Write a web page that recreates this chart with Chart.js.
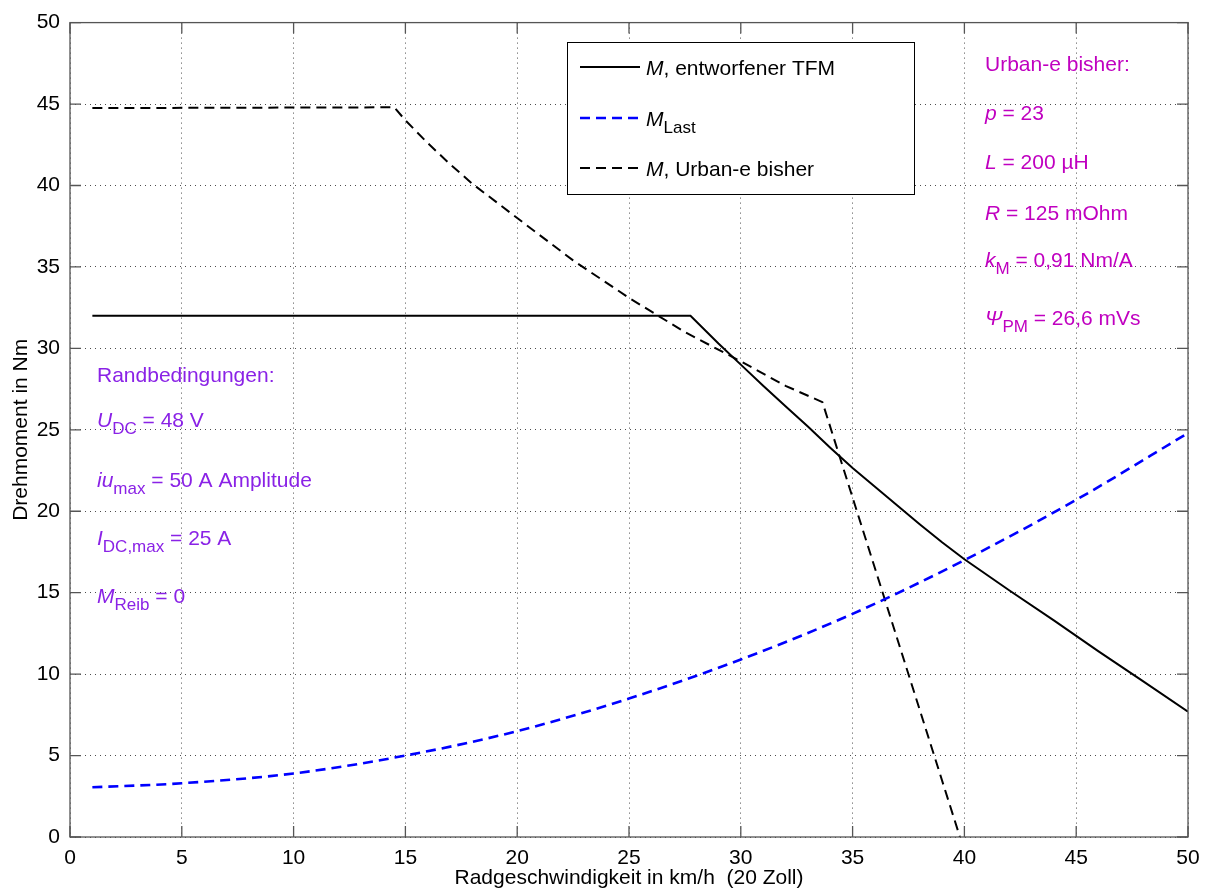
<!DOCTYPE html>
<html>
<head>
<meta charset="utf-8">
<script src="https://cdn.jsdelivr.net/npm/chart.js@4"></script>
<style>
  body { margin: 0; background: #fff; }
  #wrap { width: 1209px; height: 891px; }
</style>
</head>
<body>
<div id="wrap"><canvas id="myChart" width="1209" height="891"></canvas></div>
<script>
// tick labels
let xTicks = [0, 5, 10, 15, 20, 25, 30, 35, 40, 45, 50];
let yTicks = [0, 5, 10, 15, 20, 25, 30, 35, 40, 45, 50];

// M, entworfener TFM (solid black)
let tfmX = [1, 27.75, 29, 30, 31, 32, 33, 34, 35, 36, 37, 38, 39, 40, 42, 44, 46, 48, 50];
let tfmY = [32, 32, 30.3, 29.0, 27.7, 26.45, 25.2, 23.9, 22.65, 21.5, 20.35, 19.2, 18.1, 17.05, 15.15, 13.3, 11.4, 9.55, 7.7];

// M_Last (blue dashed)
let lastX = [1, 5, 10, 15, 20, 25, 30, 35, 40, 45, 50];
let lastY = [3.05, 3.3, 3.9, 5.0, 6.5, 8.5, 10.9, 13.7, 17.0, 20.7, 24.8];

// M, Urban-e bisher (black dashed)
let urbanX = [1, 14.5, 15, 16, 17, 18, 20, 22.5, 25, 27.5, 30, 32, 33.65, 39.8];
let urbanY = [44.75, 44.8, 44.0, 42.6, 41.3, 40.1, 38.0, 35.4, 33.1, 31.0, 29.2, 27.7, 26.7, 0];

function pts(xs, ys) {
  return xs.map((x, i) => ({ x: x, y: ys[i] }));
}

const FONT = '"Liberation Sans", Arial, sans-serif';
const urbanColor = '#c000c0';
const randColor = '#8a22e6';

// draws text made of parts: {t, it (italic), sub (subscript)}
function richText(ctx, x, y, parts, color) {
  ctx.save();
  ctx.fillStyle = color;
  ctx.textBaseline = 'alphabetic';
  ctx.textAlign = 'left';
  parts.forEach(p => {
    let size = p.sub ? 17 : 21;
    ctx.font = (p.it ? 'italic ' : '') + size + 'px ' + FONT;
    ctx.fillText(p.t, x, p.sub ? y + 7 : y);
    x += ctx.measureText(p.t).width;
  });
  ctx.restore();
}

let urbanNotes = [
  [{ t: 'Urban-e bisher:' }],
  [{ t: 'p', it: true }, { t: ' = 23' }],
  [{ t: 'L', it: true }, { t: ' = 200 µH' }],
  [{ t: 'R', it: true }, { t: ' = 125 mOhm' }],
  [{ t: 'k', it: true }, { t: 'M', sub: true }, { t: ' = 0,91 Nm/A' }],
  [{ t: 'Ψ', it: true }, { t: 'PM', sub: true }, { t: ' = 26,6 mVs' }]
];
let urbanBase = [71, 120, 169, 220, 267, 325];

let randNotes = [
  [{ t: 'Randbedingungen:' }],
  [{ t: 'U', it: true }, { t: 'DC', sub: true }, { t: ' = 48 V' }],
  [{ t: 'iu', it: true }, { t: 'max', sub: true }, { t: ' = 50 A Amplitude' }],
  [{ t: 'I', it: true }, { t: 'DC,max', sub: true }, { t: ' = 25 A' }],
  [{ t: 'M', it: true }, { t: 'Reib', sub: true }, { t: ' = 0' }]
];
let randBase = [382, 427, 487, 545, 603];

let extras = {
  id: 'extras',
  afterDatasetsDraw(chart) {
    const ctx = chart.ctx;
    const a = chart.chartArea;
    const xs = chart.scales.x, ys = chart.scales.y;

    // box + inward ticks
    ctx.save();
    ctx.strokeStyle = '#555';
    ctx.lineWidth = 1.3;
    ctx.strokeRect(a.left, a.top, a.right - a.left, a.bottom - a.top);
    ctx.beginPath();
    xTicks.forEach(v => {
      const px = xs.getPixelForValue(v);
      ctx.moveTo(px, a.bottom); ctx.lineTo(px, a.bottom - 11);
      ctx.moveTo(px, a.top); ctx.lineTo(px, a.top + 11);
    });
    yTicks.forEach(v => {
      const py = ys.getPixelForValue(v);
      ctx.moveTo(a.left, py); ctx.lineTo(a.left + 11, py);
      ctx.moveTo(a.right, py); ctx.lineTo(a.right - 11, py);
    });
    ctx.stroke();
    ctx.restore();

    // legend
    ctx.save();
    ctx.fillStyle = '#fff';
    ctx.fillRect(567, 42, 347, 152);
    ctx.strokeStyle = '#000';
    ctx.lineWidth = 1;
    ctx.strokeRect(567.5, 42.5, 347, 152);
    const rows = [
      { y: 67, color: '#000', dash: [], w: 2, parts: [{ t: 'M', it: true }, { t: ', entworfener TFM' }] },
      { y: 118, color: '#0000ff', dash: [10, 6], w: 2.6, parts: [{ t: 'M', it: true }, { t: 'Last', sub: true }] },
      { y: 168, color: '#000', dash: [10, 6], w: 2, parts: [{ t: 'M', it: true }, { t: ', Urban-e bisher' }] }
    ];
    rows.forEach(r => {
      ctx.beginPath();
      ctx.setLineDash(r.dash);
      ctx.strokeStyle = r.color;
      ctx.lineWidth = r.w;
      ctx.moveTo(580, r.y); ctx.lineTo(640, r.y);
      ctx.stroke();
      ctx.setLineDash([]);
      richText(ctx, 646, r.y + 8, r.parts, '#000');
    });
    ctx.restore();

    urbanNotes.forEach((p, i) => richText(ctx, 985, urbanBase[i], p, urbanColor));
    randNotes.forEach((p, i) => richText(ctx, 97, randBase[i], p, randColor));
  }
};

let gridStyle = {
  color: 'rgba(0,0,0,0.7)',
  lineWidth: 1,
  drawTicks: false
};

let myChart = document.getElementById('myChart').getContext('2d');

let torqueChart = new Chart(myChart, {
  type: 'line',
  data: {
    datasets: [{
      label: 'M, entworfener TFM',
      data: pts(tfmX, tfmY),
      borderColor: '#000',
      borderWidth: 2,
      pointRadius: 0,
      tension: 0
    }, {
      label: 'M_Last',
      data: pts(lastX, lastY),
      borderColor: '#0000ff',
      borderWidth: 2.6,
      borderDash: [10, 6],
      pointRadius: 0,
      cubicInterpolationMode: 'monotone'
    }, {
      label: 'M, Urban-e bisher',
      data: pts(urbanX, urbanY),
      borderColor: '#000',
      borderWidth: 2,
      borderDash: [10, 6],
      pointRadius: 0,
      tension: 0
    }]
  },
  options: {
    responsive: false,
    animation: false,
    layout: { padding: { top: 20, right: 21, left: 0, bottom: 0 } },
    plugins: {
      legend: { display: false },
      tooltip: { enabled: false }
    },
    scales: {
      x: {
        type: 'linear',
        min: 0,
        max: 50,
        afterBuildTicks: s => { s.ticks = xTicks.map(v => ({ value: v })); },
        afterFit: s => { s.height = 54; },
        grid: gridStyle,
        border: { display: false, dash: [1, 4] },
        ticks: { color: '#000', padding: 9, font: { family: FONT, size: 21 }, maxRotation: 0 },
        title: {
          display: true,
          text: 'Radgeschwindigkeit in km/h  (20 Zoll)',
          color: '#000',
          font: { family: FONT, size: 21 },
          padding: 0
        }
      },
      y: {
        type: 'linear',
        min: 0,
        max: 50,
        afterBuildTicks: s => { s.ticks = yTicks.map(v => ({ value: v })); },
        afterFit: s => { s.width = 70; },
        grid: gridStyle,
        border: { display: false, dash: [1, 4] },
        ticks: { color: '#000', padding: 10, font: { family: FONT, size: 21 } },
        title: {
          display: true,
          text: 'Drehmoment in Nm',
          color: '#000',
          font: { family: FONT, size: 21 },
          padding: { top: 9, bottom: 0 }
        }
      }
    }
  },
  plugins: [extras]
});
</script>
</body>
</html>
